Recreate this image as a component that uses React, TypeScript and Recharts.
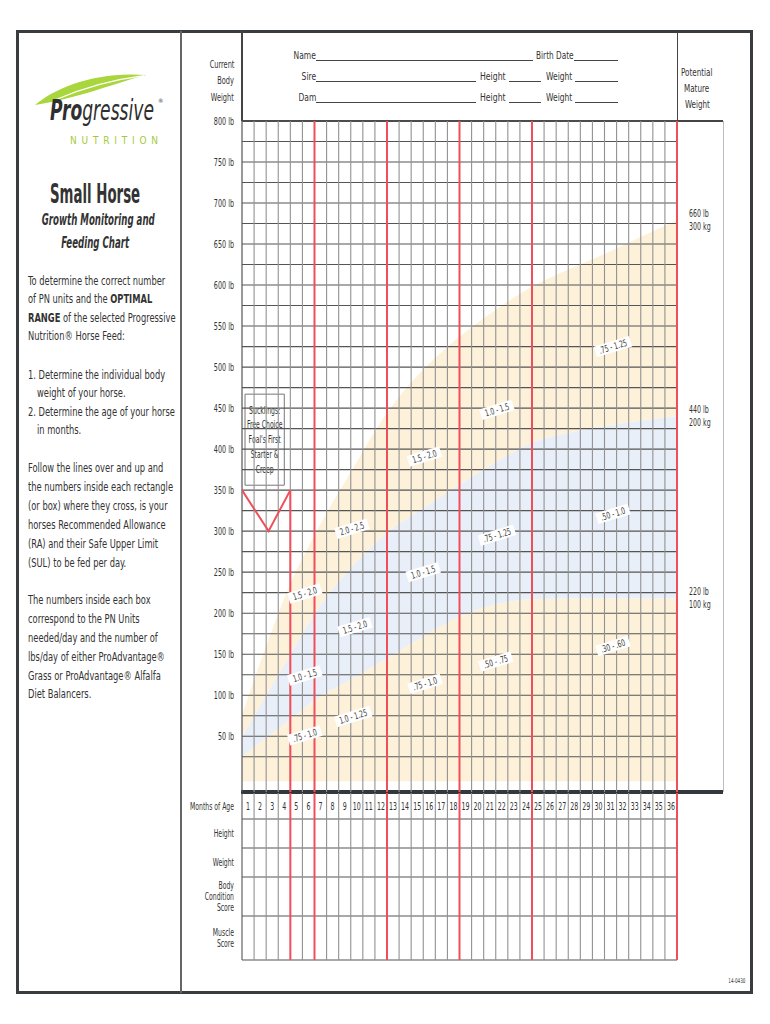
import React from 'react';
import {
  ComposedChart,
  Area,
  Line,
  Scatter,
  XAxis,
  YAxis,
  ReferenceLine,
  ReferenceArea,
} from 'recharts';

const FONT = "'Liberation Sans Narrow', 'DejaVu Sans Condensed', sans-serif";
const RED = '#ef4f5b';
const TAN = '#fdf1d9';
const BLUE = '#e8eff9';
const INK = '#333';
// the sheet is set in a condensed face; squeeze the installed one to match
const SQ = 0.7;

const MONTHS = [0, 2, 4, 6, 9, 12, 15, 18, 21, 24, 27, 30, 33, 36];
const FLOOR_LB = -5;
const EDGE_220 = [25, 48, 71, 94, 119, 145, 172, 196, 211, 217, 218, 218, 218, 218];
const EDGE_440 = [49, 100, 150, 199, 255, 298, 328, 357, 384, 408, 420, 428, 435, 440];
const EDGE_660 = [76, 160, 236, 295, 372, 444, 497, 537, 570, 598, 619, 638, 659, 679];

const WEIGHT_TICKS = [50, 100, 150, 200, 250, 300, 350, 400, 450, 500, 550, 600, 650, 700, 750, 800];
const GRID_LB = Array.from({ length: 32 }, (_, i) => (i + 1) * 25);
const MONTH_NUMBERS = Array.from({ length: 36 }, (_, i) => i + 1);
const RED_MONTHS = [6, 12, 18, 24, 36];
const TABLE_RED = [4, 6, 12, 18, 24, 36];

const MATURE_LB = ['660 lb', '440 lb', '220 lb'];
const MATURE_KG = ['300 kg', '200 kg', '100 kg'];

const V_MARK = [
  { m: 0, lb: 350 },
  { m: 2.2, lb: 300 },
  { m: 4, lb: 350 },
];

const BAND_LABELS = [
  { m: 30.7, lb: 525, t: '.75 - 1.25' },
  { m: 21.1, lb: 448, t: '1.0 - 1.5' },
  { m: 15.1, lb: 391, t: '1.5 - 2.0' },
  { m: 9.1, lb: 303, t: '2.0 - 2.5' },
  { m: 5.2, lb: 224, t: '1.5 - 2.0' },
  { m: 30.7, lb: 321, t: '.50 - 1.0' },
  { m: 21.1, lb: 295, t: '.75 - 1.25' },
  { m: 15.0, lb: 250, t: '1.0 - 1.5' },
  { m: 9.35, lb: 183, t: '1.5 - 2.0' },
  { m: 5.2, lb: 124, t: '1.0 - 1.5' },
  { m: 30.7, lb: 160, t: '.30 - .60' },
  { m: 21.0, lb: 141, t: '.50 - .75' },
  { m: 15.15, lb: 114, t: '.75 - 1.0' },
  { m: 9.2, lb: 74, t: '1.0 - 1.25' },
  { m: 5.2, lb: 51, t: '.75 - 1.0' },
];

const SUCKLING_LINES = ['Sucklings:', 'Free Choice', "Foal's First", 'Starter &', 'Creep'];

const ROW_EDGES = [0, 26, 55, 84, 123, 167];
const ROW_NAMES = [['Months of Age'], ['Height'], ['Weight'], ['Body', 'Condition', 'Score'], ['Muscle', 'Score']];

const rows = MONTHS.map((m, i) => ({
  m,
  low: [FLOOR_LB, EDGE_220[i]],
  mid: [EDGE_220[i], EDGE_440[i]],
  high: [EDGE_440[i], EDGE_660[i]],
}));

const matureTicks = [EDGE_660[EDGE_660.length - 1], EDGE_440[EDGE_440.length - 1], EDGE_220[EDGE_220.length - 1]];
const rowCenters = ROW_EDGES.slice(0, -1).map((e, i) => (e + ROW_EDGES[i + 1]) / 2);
const monthTags = MONTH_NUMBERS.map((k) => ({ m: k - 0.5, row: rowCenters[0], t: String(k) }));

function BandTag(props: any) {
  const { cx, cy, payload } = props;
  const w = payload.t.length * 3.2 + 5;
  return (
    <g transform={`translate(${cx},${cy}) rotate(-17)`}>
      <rect x={-w / 2} y={-5.5} width={w} height={11} fill="#fff" />
      <g transform={`scale(${SQ},1)`}>
        <text x={0} y={3.3} textAnchor="middle" fontSize={9.5} fill="#3a3a3a" fontFamily={FONT}>
          {payload.t}
        </text>
      </g>
    </g>
  );
}

function MonthTag(props: any) {
  const { cx, cy, payload } = props;
  return (
    <g transform={`translate(${cx},${cy}) scale(${SQ},1)`}>
      <text x={0} y={0} dy="0.35em" textAnchor="middle" fontSize={10} fill={INK} fontFamily={FONT}>
        {payload.t}
      </text>
    </g>
  );
}

function LbTick(props: any) {
  const { x, y, payload } = props;
  return (
    <g transform={`translate(${x},${y}) scale(0.68,1)`}>
      <text x={0} y={0} dy="0.35em" textAnchor="end" fontSize={10.5} fill={INK} fontFamily={FONT}>
        {`${payload.value} lb`}
      </text>
    </g>
  );
}

function MatureTick(props: any) {
  const { x, y, index } = props;
  return (
    <g transform={`translate(${x + 4},${y}) scale(${SQ},1)`}>
      <text x={0} y={0} fontSize={10} fill={INK} fontFamily={FONT}>
        <tspan x={0} dy="-0.3em">{MATURE_LB[index]}</tspan>
        <tspan x={0} dy="1.25em">{MATURE_KG[index]}</tspan>
      </text>
    </g>
  );
}

function RowTick(props: any) {
  const { x, y, index } = props;
  const lines = ROW_NAMES[index] || [];
  const lh = 11.5;
  const start = -((lines.length - 1) * lh) / 2;
  return (
    <g transform={`translate(${x},${y}) scale(0.68,1)`}>
      <text textAnchor="end" fontSize={10} fill={INK} fontFamily={FONT}>
        {lines.map((l, i) => (
          <tspan key={l} x={0} y={start + i * lh} dy="0.35em">
            {l}
          </tspan>
        ))}
      </text>
    </g>
  );
}

function SucklingLabel(props: any) {
  const vb = props.viewBox || {};
  const cx = vb.x + vb.width / 2;
  return (
    <g transform={`translate(${cx},${vb.y}) scale(0.68,1)`}>
      <text textAnchor="middle" fontSize={10} fill={INK} fontFamily={FONT}>
        {SUCKLING_LINES.map((l, i) => (
          <tspan key={l} x={0} y={16 + i * 14.8} dy="0.35em">
            {l}
          </tspan>
        ))}
      </text>
    </g>
  );
}

function Txt({ x, y, anchor = 'start', size = 10, bold = false, italic = false, color = INK, children, sq = SQ }: any) {
  const style: React.CSSProperties = {
    position: 'absolute',
    top: y,
    transform: 'translateY(-50%)',
    whiteSpace: 'nowrap',
    lineHeight: 1,
    fontSize: size,
    fontWeight: bold ? 'bold' : 'normal',
    fontStyle: italic ? 'italic' : 'normal',
    color,
  };
  let origin = 'left center';
  if (anchor === 'end') {
    style.right = 770 - x;
    style.textAlign = 'right';
    origin = 'right center';
  } else if (anchor === 'middle') {
    style.left = x - 85;
    style.width = 170;
    style.textAlign = 'center';
    origin = 'center center';
  } else {
    style.left = x;
  }
  return (
    <div style={style}>
      <span style={{ display: 'inline-block', transform: `scaleX(${sq})`, transformOrigin: origin }}>{children}</span>
    </div>
  );
}

function HLine({ x1, x2, y, w = 1, color = '#555' }: any) {
  return <div style={{ position: 'absolute', left: x1, top: y - w / 2, width: x2 - x1, height: w, background: color }} />;
}

function VLine({ x, y1, y2, w = 1, color = '#555' }: any) {
  return <div style={{ position: 'absolute', left: x - w / 2, top: y1, width: w, height: y2 - y1, background: color }} />;
}

function Blank({ x1, x2, y }: any) {
  return <HLine x1={x1} x2={x2} y={y} w={0.8} color="#444" />;
}

export default function App() {
  const P = 12.5;
  const PSQ = 0.74;
  return (
    <div
      style={{
        position: 'absolute',
        left: 0,
        top: 0,
        width: 770,
        height: 1024,
        background: '#fff',
        fontFamily: FONT,
        color: INK,
        overflow: 'hidden',
      }}
    >
      {/* sheet frame */}
      <div
        style={{
          position: 'absolute',
          left: 16,
          top: 30,
          width: 737,
          height: 964,
          border: '3px solid #3a3d3f',
          boxSizing: 'border-box',
        }}
      />
      <VLine x={181} y1={31} y2={993} w={1.2} color="#666" />
      <VLine x={242} y1={31} y2={121} w={1.2} color="#444" />
      <VLine x={677.5} y1={31} y2={121} w={1.2} color="#444" />
      <HLine x1={242} x2={723} y={121} w={1.2} color="#444" />
      <VLine x={723} y1={121} y2={792} w={1} color="#b8bcc4" />
      <HLine x1={241} x2={723} y={792} w={4} color="#33383b" />

      {/* logo */}
      <svg style={{ position: 'absolute', left: 0, top: 0 }} width={181} height={160}>
        <path d="M35,105 C55,88 95,71 146,75 C118,82 80,98 35,105 Z" fill="#a9d63c" />
        <path d="M55,100 C80,89 110,80 144,75.6" fill="none" stroke="#fff" strokeWidth={1.2} />
        <text x={70} y={143.5} fontSize={10} fill="#a3c93a" fontFamily={FONT} textLength={88} lengthAdjust="spacing">
          NUTRITION
        </text>
      </svg>
      <Txt x={50} y={111} size={28} italic sq={0.68} color="#2f2f2f">
        <b>Pro</b>gressive
      </Txt>
      <Txt x={158} y={101} size={6} sq={1} color="#3b3b3b">®</Txt>

      <Txt x={95} y={194} anchor="middle" size={26} bold sq={0.57}>Small Horse</Txt>
      <Txt x={95} y={220} anchor="middle" size={15} bold italic sq={0.64}>Growth Monitoring and</Txt>
      <Txt x={95} y={243} anchor="middle" size={15} bold italic sq={0.64}>Feeding Chart</Txt>

      <Txt x={28} y={281} size={P} sq={PSQ}>To determine the correct number</Txt>
      <Txt x={28} y={299} size={P} sq={PSQ}>of PN units and the <b>OPTIMAL</b></Txt>
      <Txt x={28} y={318} size={P} sq={PSQ}><b>RANGE</b> of the selected Progressive</Txt>
      <Txt x={28} y={336} size={P} sq={PSQ}>Nutrition® Horse Feed:</Txt>

      <Txt x={28} y={375} size={P} sq={PSQ}>1. Determine the individual body</Txt>
      <Txt x={37} y={393} size={P} sq={PSQ}>weight of your horse.</Txt>
      <Txt x={28} y={412} size={P} sq={PSQ}>2. Determine the age of your horse</Txt>
      <Txt x={37} y={430} size={P} sq={PSQ}>in months.</Txt>

      <Txt x={28} y={468} size={P} sq={PSQ}>Follow the lines over and up and</Txt>
      <Txt x={28} y={487} size={P} sq={PSQ}>the numbers inside each rectangle</Txt>
      <Txt x={28} y={506} size={P} sq={PSQ}>(or box) where they cross, is your</Txt>
      <Txt x={28} y={525} size={P} sq={PSQ}>horses Recommended Allowance</Txt>
      <Txt x={28} y={544} size={P} sq={PSQ}>(RA) and their Safe Upper Limit</Txt>
      <Txt x={28} y={563} size={P} sq={PSQ}>(SUL) to be fed per day.</Txt>

      <Txt x={28} y={600} size={P} sq={PSQ}>The numbers inside each box</Txt>
      <Txt x={28} y={619} size={P} sq={PSQ}>correspond to the PN Units</Txt>
      <Txt x={28} y={638} size={P} sq={PSQ}>needed/day and the number of</Txt>
      <Txt x={28} y={657} size={P} sq={PSQ}>lbs/day of either ProAdvantage®</Txt>
      <Txt x={28} y={676} size={P} sq={PSQ}>Grass or ProAdvantage® Alfalfa</Txt>
      <Txt x={28} y={694} size={P} sq={PSQ}>Diet Balancers.</Txt>

      {/* header */}
      <Txt x={234} y={64} anchor="end" size={10.5}>Current</Txt>
      <Txt x={234} y={80} anchor="end" size={10.5}>Body</Txt>
      <Txt x={234} y={97} anchor="end" size={10.5}>Weight</Txt>

      <Txt x={316} y={55} anchor="end" size={10.5} sq={0.8}>Name</Txt>
      <Blank x1={316} x2={533} y={60} />
      <Txt x={536} y={55} size={10.5} sq={0.78}>Birth Date</Txt>
      <Blank x1={574} x2={618} y={60} />
      <Txt x={316} y={76} anchor="end" size={10.5} sq={0.8}>Sire</Txt>
      <Blank x1={316} x2={476} y={81} />
      <Txt x={480} y={76} size={10.5} sq={0.82}>Height</Txt>
      <Blank x1={509} x2={541} y={81} />
      <Txt x={546} y={76} size={10.5} sq={0.8}>Weight</Txt>
      <Blank x1={575} x2={618} y={81} />
      <Txt x={316} y={97} anchor="end" size={10.5} sq={0.8}>Dam</Txt>
      <Blank x1={316} x2={476} y={102} />
      <Txt x={480} y={97} size={10.5} sq={0.82}>Height</Txt>
      <Blank x1={509} x2={541} y={102} />
      <Txt x={546} y={97} size={10.5} sq={0.8}>Weight</Txt>
      <Blank x1={575} x2={618} y={102} />

      <Txt x={697} y={72} anchor="middle" size={10.5} sq={0.76}>Potential</Txt>
      <Txt x={697} y={88} anchor="middle" size={10.5} sq={0.76}>Mature</Txt>
      <Txt x={697} y={104} anchor="middle" size={10.5} sq={0.76}>Weight</Txt>

      <Txt x={745} y={981} anchor="end" size={6.5}>14-0430</Txt>

      {/* growth chart */}
      <div style={{ position: 'absolute', left: 182, top: 0 }}>
        <ComposedChart width={588} height={800} data={rows} margin={{ top: 121, right: 48, bottom: 8, left: 0 }}>
          <XAxis type="number" dataKey="m" domain={[0, 36]} hide allowDataOverflow />
          <YAxis
            type="number"
            domain={[-18, 800]}
            ticks={WEIGHT_TICKS}
            interval={0}
            width={60}
            axisLine={false}
            tickLine={false}
            tick={<LbTick />}
            allowDataOverflow
          />
          <YAxis
            yAxisId="mature"
            orientation="right"
            type="number"
            domain={[-18, 800]}
            ticks={matureTicks}
            interval={0}
            width={45}
            axisLine={false}
            tickLine={false}
            tick={<MatureTick />}
            allowDataOverflow
          />
          <Area dataKey="low" type="monotone" fill={TAN} fillOpacity={1} stroke="none" isAnimationActive={false} />
          <Area dataKey="mid" type="monotone" fill={BLUE} fillOpacity={1} stroke="none" isAnimationActive={false} />
          <Area dataKey="high" type="monotone" fill={TAN} fillOpacity={1} stroke="none" isAnimationActive={false} />

          {GRID_LB.map((v) => (
            <ReferenceLine key={`h${v}`} y={v} stroke="#555" strokeWidth={1.1} />
          ))}
          <ReferenceLine x={0} stroke="#555" strokeWidth={1.2} />
          {MONTH_NUMBERS.filter((k) => !RED_MONTHS.includes(k)).map((k) => (
            <ReferenceLine key={`v${k}`} x={k} stroke="#929292" strokeWidth={1.1} />
          ))}
          {RED_MONTHS.map((k) => (
            <ReferenceLine key={`r${k}`} x={k} stroke={RED} strokeWidth={2} />
          ))}
          <ReferenceLine segment={[{ x: 4, y: 350 }, { x: 4, y: -18 }]} stroke={RED} strokeWidth={2} />
          <Line data={V_MARK} dataKey="lb" type="linear" stroke={RED} strokeWidth={2} dot={false} isAnimationActive={false} />
          <ReferenceArea
            x1={0.25}
            x2={3.5}
            y1={356}
            y2={467}
            fill="#fff"
            fillOpacity={1}
            stroke="#777"
            strokeWidth={1}
            label={(p: any) => <SucklingLabel {...p} />}
          />
          <Scatter data={BAND_LABELS} dataKey="lb" shape={(p: any) => <BandTag {...p} />} isAnimationActive={false} />
        </ComposedChart>
      </div>

      {/* record table */}
      <div style={{ position: 'absolute', left: 182, top: 791 }}>
        <ComposedChart width={588} height={172} data={monthTags} margin={{ top: 2, right: 93, bottom: 3, left: 0 }}>
          <XAxis type="number" dataKey="m" domain={[0, 36]} hide allowDataOverflow />
          <YAxis
            type="number"
            domain={[0, 167]}
            reversed
            ticks={rowCenters}
            interval={0}
            width={60}
            axisLine={false}
            tickLine={false}
            tick={<RowTick />}
            allowDataOverflow
          />
          {ROW_EDGES.slice(1).map((e) => (
            <ReferenceLine key={`row${e}`} y={e} stroke="#555" strokeWidth={1.2} />
          ))}
          {[0, ...MONTH_NUMBERS]
            .filter((k) => !TABLE_RED.includes(k))
            .map((k) => (
              <ReferenceLine key={`tv${k}`} x={k} stroke={k === 0 ? '#555' : '#929292'} strokeWidth={1.1} />
            ))}
          {TABLE_RED.map((k) => (
            <ReferenceLine key={`tr${k}`} x={k} stroke={RED} strokeWidth={2} />
          ))}
          <Scatter dataKey="row" shape={(p: any) => <MonthTag {...p} />} isAnimationActive={false} />
        </ComposedChart>
      </div>
    </div>
  );
}
